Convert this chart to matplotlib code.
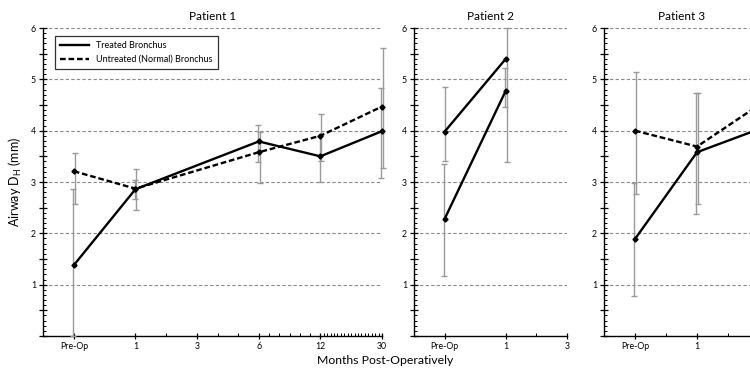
import numpy as np
import matplotlib
matplotlib.use("Agg")
from matplotlib import pyplot as plt
from matplotlib import transforms

plt.rcParams['font.family'] = ['Lato', 'DejaVu Sans']
plt.rcParams['mathtext.fontset'] = 'custom'
plt.rcParams['mathtext.rm'] = 'Lato'

# x categories (evenly spaced on the axis)
p1_labels = ['Pre-Op', '1', '3', '6', '12', '30']
p2_labels = ['Pre-Op', '1', '3']
p3_labels = ['Pre-Op', '1', '']  # the "3" falls past the cropped right edge

# Patient 1 (no 3-month scan)
p1_x = [0, 1, 3, 4, 5]
p1_treated = [1.38, 2.86, 3.79, 3.50, 3.99]
p1_treated_lo = [0.0, 2.66, 3.38, 3.00, 3.07]
p1_treated_hi = [2.87, 3.04, 4.12, 3.90, 4.84]
p1_untreated = [3.21, 2.87, 3.58, 3.90, 4.47]
p1_untreated_lo = [2.58, 2.46, 2.98, 3.40, 3.27]
p1_untreated_hi = [3.56, 3.26, 3.98, 4.33, 5.62]

# Patient 2 (both drawn solid in the original)
p2_x = [0, 1]
p2_treated = [2.28, 4.78]
p2_treated_lo = [1.17, 4.47]
p2_treated_hi = [3.36, 5.23]
p2_untreated = [3.98, 5.40]
p2_untreated_lo = [3.40, 3.38]
p2_untreated_hi = [4.86, 6.00]

# Patient 3
p3_x = [0, 1, 2]
p3_treated = [1.89, 3.58, 4.03]
p3_treated_lo = [0.78, 2.37, 3.50]
p3_treated_hi = [2.99, 4.73, 4.55]
p3_untreated = [4.00, 3.69, 4.50]
p3_untreated_lo = [2.77, 2.57, 3.90]
p3_untreated_hi = [5.15, 4.73, 5.10]

# minor x ticks (monthly steps inside each segment)
p1_minor = [1.5] + [2 + k / 3 for k in (1, 2)] + [3 + k / 6 for k in range(1, 6)] + [4 + k / 18 for k in range(1, 18)]
p2_minor = [1.5]
p3_minor = [0.5, 1.5]

W, H = 750, 372
fig = plt.figure(figsize=(W / 100, H / 100), dpi=100)

def px_axes(x0, x1, y_top=28, y_bot=336):
    return fig.add_axes([x0 / W, (H - y_bot) / H, (x1 - x0) / W, (y_bot - y_top) / H])

ax1 = px_axes(43, 382)
ax2 = px_axes(414, 567)
ax3 = px_axes(604, 759)

solid = dict(color='black', lw=1.7, marker='D', ms=2.6, zorder=4, clip_on=False)
dashed = dict(color='black', lw=1.7, marker='D', ms=2.6, zorder=4, linestyle=(0, (2.4, 1.2)), clip_on=False)
ebar = dict(fmt='none', ecolor='#9a9a9a', elinewidth=1.0, capsize=2.5, capthick=1.0, zorder=3)


def errs(vals, lo, hi):
    v = np.array(vals)
    return [v - np.array(lo), np.array(hi) - v]


def panel(ax, title, labels, minor, x, series):
    n = len(labels)
    ax.set_xlim(-0.5, n - 1)
    ax.set_ylim(0, 6)
    for y in range(1, 7):
        ax.axhline(y, color='#8a8a8a', lw=0.8, linestyle=(0, (3, 2)), zorder=1)
    for i, (vals, lo, hi, style) in enumerate(series):
        shift = transforms.ScaledTranslation((-0.8 if i == 0 else 0.8) / 100, 0, fig.dpi_scale_trans)
        eb = ax.errorbar(x, vals, yerr=errs(vals, lo, hi), transform=ax.transData + shift, **ebar)
        for art in eb.get_children():
            art.set_clip_on(False)
        ax.plot(x, vals, **style)
    ax.set_xticks(range(n))
    ax.set_xticklabels(labels)
    ax.set_xticks(minor, minor=True)
    ax.set_yticks(np.arange(0, 6.01, 0.5))
    ax.set_yticklabels(['' if (v == 0 or v % 1) else str(int(v)) for v in np.arange(0, 6.01, 0.5)])
    ax.set_yticks(np.arange(0, 6.01, 0.1), minor=True)
    ax.tick_params(which='major', direction='inout', length=5, width=0.9, labelsize=6.3, pad=2)
    ax.tick_params(axis='y', which='major', length=6)
    ax.tick_params(which='minor', direction='in', length=2.5, width=0.7)
    for s in ('top', 'right'):
        ax.spines[s].set_visible(False)
    for s in ('left', 'bottom'):
        ax.spines[s].set_linewidth(1.0)
    ax.set_title(title, fontsize=8.5, pad=6)


panel(ax1, 'Patient 1', p1_labels, p1_minor, p1_x,
      [(p1_treated, p1_treated_lo, p1_treated_hi, solid),
       (p1_untreated, p1_untreated_lo, p1_untreated_hi, dashed)])
panel(ax2, 'Patient 2', p2_labels, p2_minor, p2_x,
      [(p2_treated, p2_treated_lo, p2_treated_hi, solid),
       (p2_untreated, p2_untreated_lo, p2_untreated_hi, solid)])
panel(ax3, 'Patient 3', p3_labels, p3_minor, p3_x,
      [(p3_treated, p3_treated_lo, p3_treated_hi, solid),
       (p3_untreated, p3_untreated_lo, p3_untreated_hi, dashed)])

h1, = ax1.plot([], [], color='black', lw=1.7)
h2, = ax1.plot([], [], color='black', lw=1.7, linestyle=(0, (2.4, 1.2)))
leg = ax1.legend([h1, h2], ['Treated Bronchus', 'Untreated (Normal) Bronchus'],
                 loc='upper left', bbox_to_anchor=(0.035, 0.974), borderaxespad=0,
                 fontsize=6.5, handlelength=3.2, frameon=True, fancybox=False,
                 edgecolor='black', borderpad=0.6, labelspacing=0.5, handletextpad=0.8)
leg.get_frame().set_linewidth(0.9)
leg.set_zorder(6)

ax1.set_ylabel(r'Airway D$_\mathregular{H}$ (mm)', fontsize=9, labelpad=5)
fig.text(385 / W, 1 - 361 / H, 'Months Post-Operatively', ha='center', va='center', fontsize=8.8)

fig.savefig('out.png', dpi=100)
